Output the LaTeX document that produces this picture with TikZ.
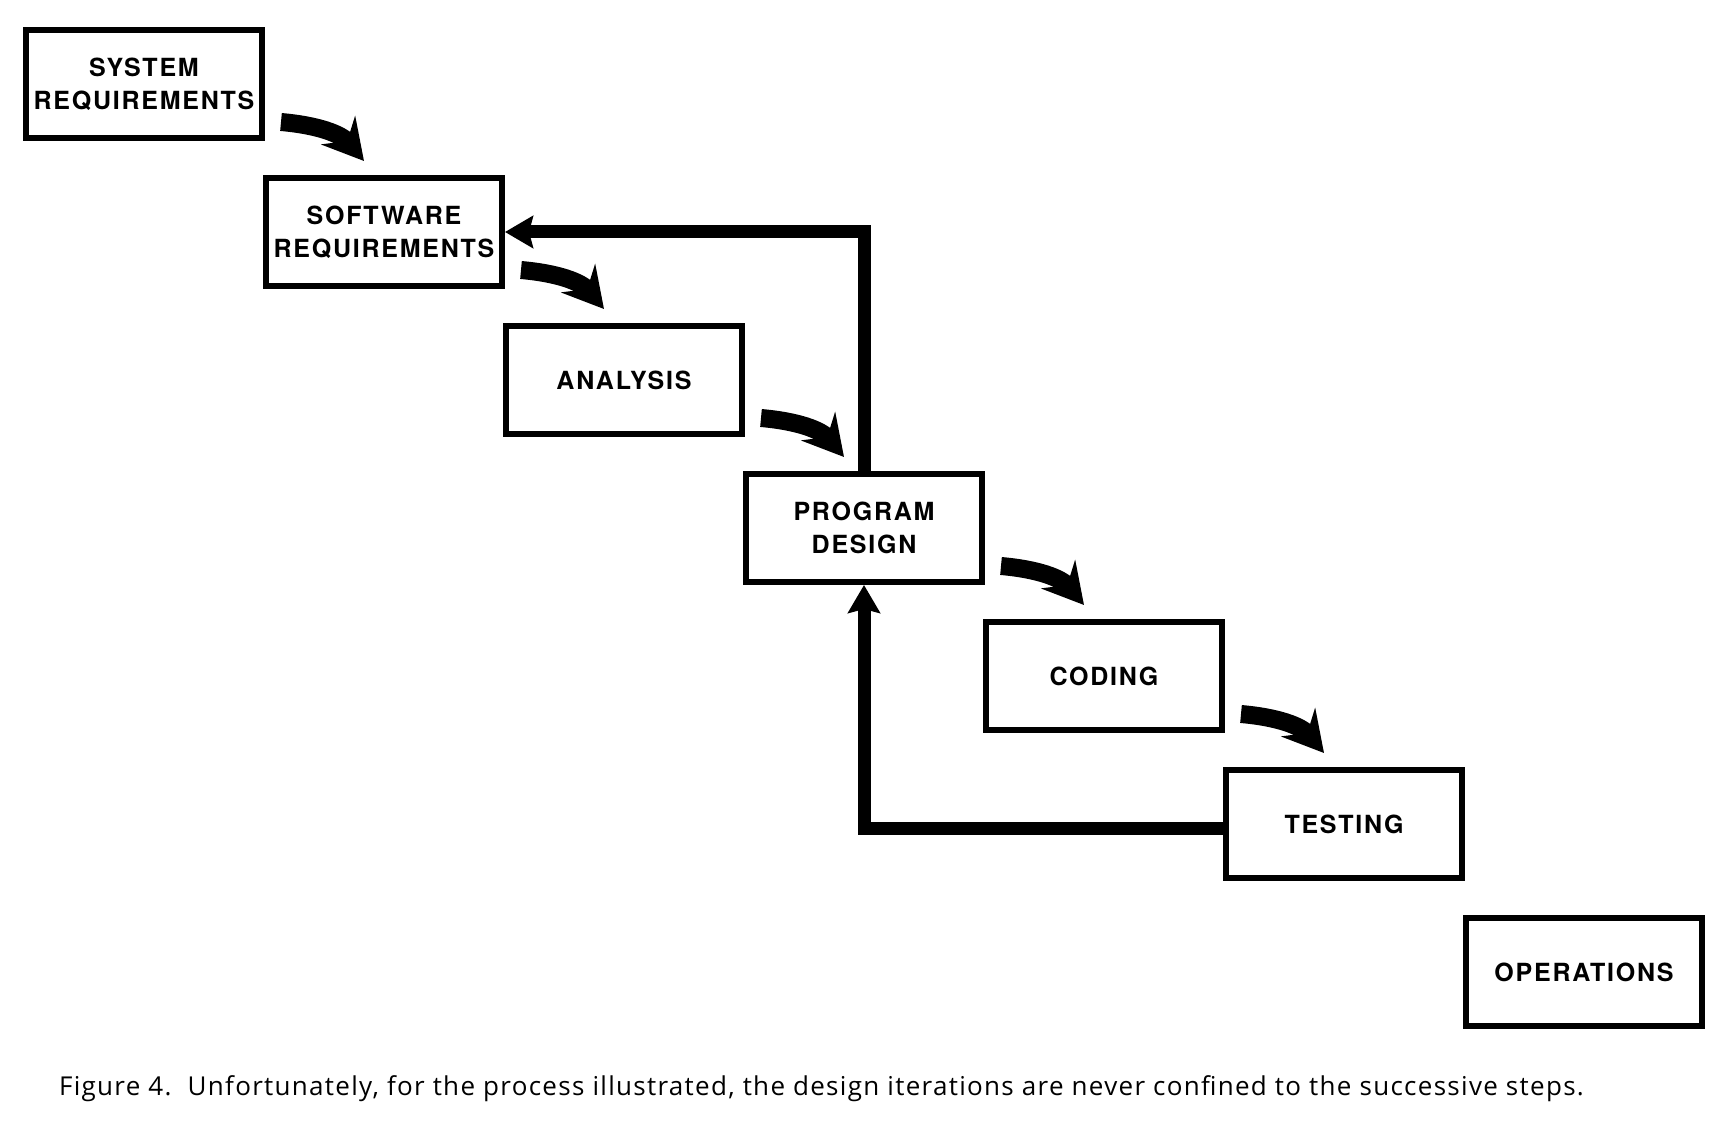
\documentclass[tikz,border=0pt]{standalone}
\usepackage{fontspec}
\newfontfamily\boxfont{TeX Gyre Heros}[LetterSpace=7]
\newfontfamily\figfont{Open Sans}[LetterSpace=5]
\usepackage{tikz}
\usetikzlibrary{arrows.meta, positioning}
\tikzstyle{block} = [rectangle, minimum width=118pt, minimum height=54pt, inner sep=2pt, align=center, draw=black, line width=3pt, font=\boxfont\bfseries\fontsize{12.5}{16.5}\selectfont]
\tikzstyle{arrow} = [line width=9pt, -{Stealth[length=20pt, width=22pt, inset=7pt]}]
\tikzstyle{loopback} = [line width=6.5pt, -{Stealth[length=14pt, width=16pt, inset=2pt]}]

\begin{document}
\begin{tikzpicture}[node distance=74pt and 120pt, on grid]
            \useasboundingbox (-72pt,-525pt) rectangle (795pt,42pt);
            \node (step1) [block] {SYSTEM\\REQUIREMENTS};
            \node (step2) [block, below right=of step1] {SOFTWARE\\REQUIREMENTS};
            \node (step3) [block, below right=of step2] {ANALYSIS};
            \node (step4) [block, below right=of step3] {PROGRAM\\DESIGN};
            \node (step5) [block, below right=of step4] {CODING};
            \node (step6) [block, below right=of step5] {TESTING};
            \node (step7) [block, below right=of step6] {OPERATIONS};

            \draw [arrow] ([xshift=8pt,yshift=-19pt]step1.east) to[out=-5,in=130] ([xshift=-10pt,yshift=7pt]step2.north);
            \draw [arrow] ([xshift=8pt,yshift=-19pt]step2.east) to[out=-5,in=130] ([xshift=-10pt,yshift=7pt]step3.north);
            \draw [arrow] ([xshift=8pt,yshift=-19pt]step3.east) to[out=-5,in=130] ([xshift=-10pt,yshift=7pt]step4.north);
            \draw [arrow] ([xshift=8pt,yshift=-19pt]step4.east) to[out=-5,in=130] ([xshift=-10pt,yshift=7pt]step5.north);
            \draw [arrow] ([xshift=8pt,yshift=-19pt]step5.east) to[out=-5,in=130] ([xshift=-10pt,yshift=7pt]step6.north);

            \draw [loopback] (step4.north) |- (step2.east);
            \draw [loopback] ([yshift=-2pt]step6.west) -| (step4.south);

            \node (caption) [anchor=base west, font=\figfont\fontsize{13}{15}\selectfont] at (-46pt,-505.5pt) {Figure 4.\ \ Unfortunately, for the process illustrated, the design iterations are never confined to the successive steps.};
        \end{tikzpicture}
\end{document}
